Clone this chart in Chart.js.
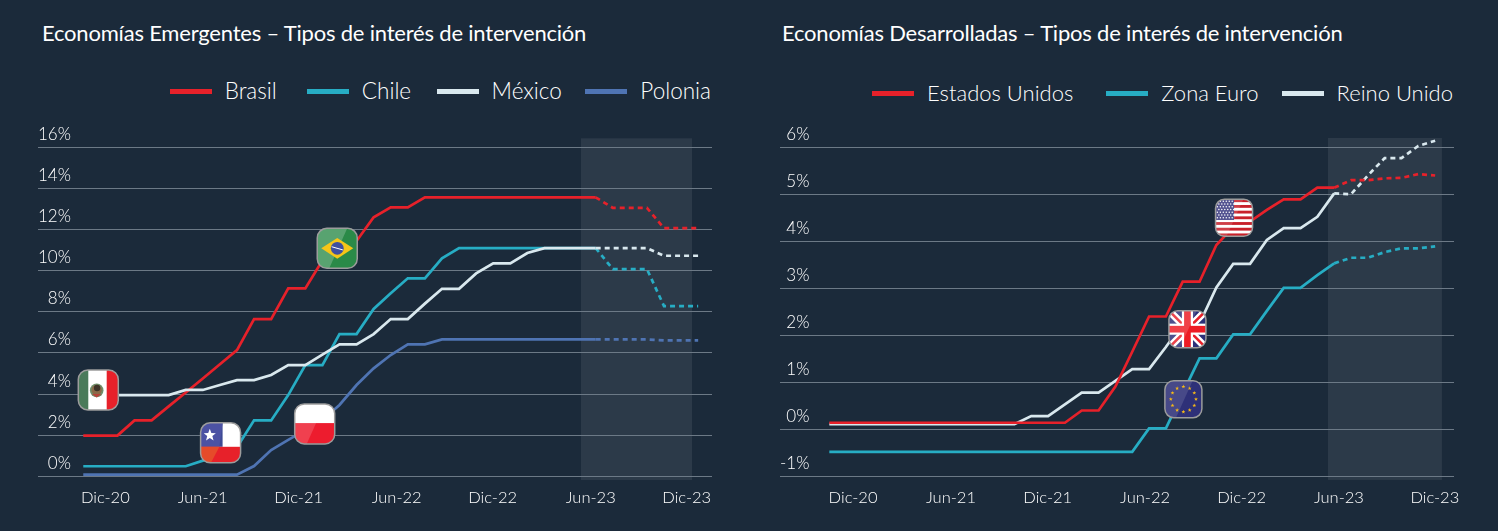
<!DOCTYPE html>
<html lang="es">
<head>
<meta charset="utf-8">
<title>Tipos de interés de intervención</title>
<script src="https://cdn.jsdelivr.net/npm/chart.js@4"></script>
<style>
  html, body { margin: 0; padding: 0; background: #1b2a3a; }
  #page { position: relative; width: 1498px; height: 531px; overflow: hidden; color: #fff; font-family: Lato, sans-serif; }
  canvas { position: absolute; top: 0; }
  #chartEmerging { left: 0; }
  #chartDeveloped { left: 750px; }
  h2 { position: absolute; top: 20px; margin: 0; font-size: 22px; line-height: 26px; font-weight: 400; letter-spacing: -0.2px; white-space: nowrap; }
  #titleEmerging { left: 42px; }
  #titleDeveloped { left: 782px; }
  .legend { position: absolute; display: flex; line-height: 28px; font-weight: 300; }
  #legendEmerging { top: 77px; right: 787px; font-size: 22.5px; }
  #legendDeveloped { top: 79px; right: 45px; font-size: 22px; }
  .legend span { display: flex; align-items: center; white-space: nowrap; }
  .legend i { display: block; width: 42px; height: 5px; margin-right: 13px; }
</style>
</head>
<body>
<div id="page">
  <h2 id="titleEmerging">Economías Emergentes – Tipos de interés de intervención</h2>
  <h2 id="titleDeveloped">Economías Desarrolladas – Tipos de interés de intervención</h2>
  <div class="legend" id="legendEmerging"></div>
  <div class="legend" id="legendDeveloped"></div>
  <canvas id="chartEmerging" width="750" height="531"></canvas>
  <canvas id="chartDeveloped" width="748" height="531"></canvas>
</div>
<script>
// ---- Data (monthly, Dic-20 to Dic-23) ----
const months = [0,1,2,3,4,5,6,7,8,9,10,11,12,13,14,15,16,17,18,19,20,21,22,23,24,25,26,27,28,29,30,31,32,33,34,35,36];
const lastActual = 30; // dashed from here on
const xTickLabels = ["Dic-20", "Jun-21", "Dic-21", "Jun-22", "Dic-22", "Jun-23", "Dic-23"];

const brasil  = [1.98,1.98,1.98,2.72,2.72,3.4,4.08,4.76,5.45,6.14,7.65,7.65,9.14,9.14,10.5,11.0,11.45,12.6,13.08,13.08,13.57,13.57,13.57,13.57,13.57,13.57,13.57,13.57,13.57,13.57,13.57,13.06,13.06,13.06,12.07,12.07,12.07];
const chile   = [0.49,0.49,0.49,0.49,0.49,0.49,0.49,0.76,0.9,1.41,2.72,2.72,3.95,5.41,5.41,6.92,6.92,8.14,8.9,9.63,9.63,10.6,11.1,11.1,11.1,11.1,11.1,11.1,11.1,11.1,11.1,10.08,10.08,10.08,8.28,8.28,8.28];
const mexico  = [3.95,3.95,3.95,3.95,3.95,3.95,4.2,4.2,4.44,4.68,4.68,4.93,5.41,5.41,5.92,6.42,6.42,6.92,7.65,7.65,8.4,9.12,9.12,9.87,10.36,10.36,10.86,11.1,11.1,11.1,11.1,11.1,11.1,11.1,10.73,10.73,10.73];
const polonia = [0.08,0.08,0.08,0.08,0.08,0.08,0.08,0.08,0.08,0.08,0.5,1.28,1.77,2.25,2.74,3.47,4.44,5.25,5.9,6.42,6.42,6.66,6.66,6.66,6.66,6.66,6.66,6.66,6.66,6.66,6.66,6.66,6.66,6.66,6.61,6.61,6.61];

const estadosUnidos = [0.14,0.14,0.14,0.14,0.14,0.14,0.14,0.14,0.14,0.14,0.14,0.14,0.14,0.14,0.14,0.4,0.4,0.91,1.65,2.4,2.4,3.14,3.14,3.92,4.3,4.42,4.67,4.89,4.89,5.14,5.14,5.3,5.3,5.34,5.35,5.43,5.4];
const zonaEuro      = [-0.48,-0.48,-0.48,-0.48,-0.48,-0.48,-0.48,-0.48,-0.48,-0.48,-0.48,-0.48,-0.48,-0.48,-0.48,-0.48,-0.48,-0.48,-0.48,0.02,0.02,0.77,1.51,1.51,2.02,2.02,2.52,3.01,3.01,3.28,3.53,3.65,3.65,3.77,3.85,3.85,3.89];
const reinoUnido    = [0.11,0.11,0.11,0.11,0.11,0.11,0.11,0.11,0.11,0.11,0.11,0.11,0.28,0.28,0.53,0.78,0.78,1.03,1.28,1.28,1.75,2.25,2.25,3.02,3.52,3.52,4.03,4.28,4.28,4.52,5.02,5.0,5.4,5.77,5.77,6.03,6.14];

const emergingTicks  = [0, 2, 4, 6, 8, 10, 12, 14, 16];
const developedTicks = [-1, 0, 1, 2, 3, 4, 5, 6];

// ---- Colours ----
const RED = "#e7212a", TEAL = "#27adc4", WHITE = "#d9e8ee", BLUE = "#4f74b3";
const GRID = "#6c7986", BAND = "rgba(255,255,255,0.08)";
const FONT = "Lato, sans-serif";

// ---- Flag icons ----
function poly(ctx, pts, fill) {
  ctx.fillStyle = fill;
  ctx.beginPath();
  pts.forEach((p, i) => i ? ctx.lineTo(p[0], p[1]) : ctx.moveTo(p[0], p[1]));
  ctx.closePath();
  ctx.fill();
}
function star(ctx, cx, cy, r, fill) {
  const pts = [];
  for (let i = 0; i < 10; i++) {
    const a = -Math.PI / 2 + i * Math.PI / 5, q = i % 2 ? r * 0.42 : r;
    pts.push([cx + q * Math.cos(a), cy + q * Math.sin(a)]);
  }
  poly(ctx, pts, fill);
}
function disc(ctx, cx, cy, r, fill) {
  ctx.fillStyle = fill;
  ctx.beginPath();
  ctx.arc(cx, cy, r, 0, Math.PI * 2);
  ctx.fill();
}
function shine(ctx, s, a) {
  poly(ctx, [[0, 0], [s * 0.75, 0], [s * 0.3, s], [0, s]], `rgba(255,255,255,${a})`);
}

const flagPainters = {
  mexico(ctx, s) {
    ctx.fillStyle = "#fff"; ctx.fillRect(0, 0, s, s);
    ctx.fillStyle = "#4a7a5a"; ctx.fillRect(0, 0, s * 0.25, s);
    ctx.fillStyle = RED; ctx.fillRect(s * 0.71, 0, s * 0.29, s);
    disc(ctx, s * 0.46, s * 0.51, s * 0.17, "#6f8f6a");
    disc(ctx, s * 0.46, s * 0.5, s * 0.13, "#8a6a48");
    disc(ctx, s * 0.47, s * 0.45, s * 0.08, "#3d3327");
    poly(ctx, [[s * 0.34, s * 0.6], [s * 0.58, s * 0.6], [s * 0.46, s * 0.69]], "#b5443a");
  },
  chile(ctx, s) {
    ctx.fillStyle = "#fff"; ctx.fillRect(0, 0, s, s);
    ctx.fillStyle = "#3d4a94"; ctx.fillRect(0, 0, s * 0.55, s * 0.6);
    poly(ctx, [[0, 0], [s * 0.55, 0], [s * 0.47, s * 0.6], [0, s * 0.6]], "#4c52a4");
    star(ctx, s * 0.23, s * 0.31, s * 0.16, "#fff");
    ctx.fillStyle = RED; ctx.fillRect(0, s * 0.6, s, s * 0.4);
    poly(ctx, [[0, s * 0.6], [s * 0.47, s * 0.6], [s * 0.26, s], [0, s]], "#e64b2a");
  },
  brasil(ctx, s) {
    ctx.fillStyle = "#2a8a48"; ctx.fillRect(0, 0, s, s);
    shine(ctx, s, 0.22);
    poly(ctx, [[s * 0.1, s * 0.5], [s * 0.5, s * 0.24], [s * 0.9, s * 0.5], [s * 0.5, s * 0.76]], "#f5c518");
    disc(ctx, s * 0.5, s * 0.5, s * 0.16, "#3f4f9f");
    ctx.strokeStyle = "#fff"; ctx.lineWidth = 1;
    ctx.beginPath(); ctx.moveTo(s * 0.36, s * 0.46); ctx.lineTo(s * 0.64, s * 0.54); ctx.stroke();
  },
  polonia(ctx, s) {
    ctx.fillStyle = "#ed1c2e"; ctx.fillRect(0, 0, s, s);
    shine(ctx, s, 0.16);
    ctx.fillStyle = "#fff"; ctx.fillRect(0, 0, s, s * 0.48);
  },
  usa(ctx, s) {
    ctx.fillStyle = "#fff"; ctx.fillRect(0, 0, s, s);
    ctx.fillStyle = "#c8202a";
    for (let i = 0; i < 7; i++) ctx.fillRect(0, i * s * 2 / 13, s, s / 13);
    ctx.fillStyle = "#3a3a80"; ctx.fillRect(0, 0, s * 0.5, s * 0.56);
    for (let r = 0; r < 7; r++) for (let c = 0; c < 6; c++) {
      disc(ctx, s * (0.05 + c * 0.08 + (r % 2 ? 0.04 : 0)), s * (0.05 + r * 0.075), s * 0.02, "#fff");
    }
    shine(ctx, s, 0.14);
  },
  uk(ctx, s) {
    ctx.fillStyle = "#2b2f78"; ctx.fillRect(0, 0, s, s);
    ctx.strokeStyle = "#fff"; ctx.lineWidth = s * 0.2;
    ctx.beginPath(); ctx.moveTo(0, 0); ctx.lineTo(s, s); ctx.moveTo(s, 0); ctx.lineTo(0, s); ctx.stroke();
    ctx.strokeStyle = RED; ctx.lineWidth = s * 0.07;
    ctx.beginPath(); ctx.moveTo(0, 0); ctx.lineTo(s, s); ctx.moveTo(s, 0); ctx.lineTo(0, s); ctx.stroke();
    ctx.fillStyle = "#fff";
    ctx.fillRect(s * 0.35, 0, s * 0.3, s); ctx.fillRect(0, s * 0.35, s, s * 0.3);
    ctx.fillStyle = "#ed1c24";
    ctx.fillRect(s * 0.41, 0, s * 0.18, s); ctx.fillRect(0, s * 0.41, s, s * 0.18);
    shine(ctx, s, 0.16);
  },
  eu(ctx, s) {
    ctx.fillStyle = "#2e3078"; ctx.fillRect(0, 0, s, s);
    shine(ctx, s, 0.12);
    for (let i = 0; i < 12; i++) {
      const a = i * Math.PI / 6;
      star(ctx, s * 0.5 + s * 0.34 * Math.cos(a), s * 0.5 + s * 0.34 * Math.sin(a), s * 0.055, "#f5b818");
    }
  }
};

// Icons sit on the chart at (month, value)
const emergingFlags = [
  { flag: "mexico",  month: 0.88,  value: 4.2 },
  { flag: "chile",   month: 8.04,  value: 1.63 },
  { flag: "brasil",  month: 14.87, value: 11.09 },
  { flag: "polonia", month: 13.55, value: 2.55 }
];
const developedFlags = [
  { flag: "usa", month: 24.05, value: 4.5 },
  { flag: "uk",  month: 21.28, value: 2.13 },
  { flag: "eu",  month: 21.04, value: 0.64 }
];

// ---- Inline plugins ----
const bandPlugin = {
  id: "forecastBand",
  beforeDraw(chart, args, opts) {
    const { x, y } = chart.scales;
    const { ctx } = chart;
    ctx.save();
    ctx.fillStyle = BAND;
    ctx.fillRect(x.getPixelForValue(opts.from), y.getPixelForValue(opts.top),
      x.getPixelForValue(opts.to) - x.getPixelForValue(opts.from),
      y.getPixelForValue(opts.bottom) - y.getPixelForValue(opts.top));
    ctx.restore();
  }
};

const flagPlugin = {
  id: "flagIcons",
  afterDatasetsDraw(chart, args, opts) {
    const { x, y } = chart.scales;
    const { ctx } = chart;
    const s = opts.size;
    opts.items.forEach(item => {
      const left = x.getPixelForValue(item.month) - s / 2;
      const top = y.getPixelForValue(item.value) - s / 2;
      ctx.save();
      ctx.translate(left, top);
      ctx.save();
      ctx.beginPath();
      ctx.roundRect(0, 0, s, s, s * 0.24);
      ctx.clip();
      flagPainters[item.flag](ctx, s);
      ctx.restore();
      ctx.beginPath();
      ctx.roundRect(0, 0, s, s, s * 0.24);
      ctx.strokeStyle = "#9c9c9c";
      ctx.lineWidth = 1.5;
      ctx.stroke();
      ctx.restore();
    });
  }
};

// ---- Chart builder ----
function line(label, data, color, order) {
  return {
    label, data: months.map((m, i) => ({ x: m, y: data[i] })),
    borderColor: color, backgroundColor: color, borderWidth: 2.7,
    pointRadius: 0, tension: 0, order,
    segment: { borderDash: c => c.p0DataIndex >= lastActual ? [5, 4] : undefined }
  };
}

function buildChart(id, cfg) {
  return new Chart(document.getElementById(id), {
    type: "line",
    data: { datasets: cfg.datasets },
    plugins: [bandPlugin, flagPlugin],
    options: {
      responsive: false,
      animation: false,
      layout: { padding: { top: 133, left: cfg.padLeft, right: cfg.padRight, bottom: 0 } },
      plugins: {
        legend: { display: false },
        tooltip: { enabled: false },
        forecastBand: cfg.band,
        flagIcons: { items: cfg.flags, size: cfg.flagSize }
      },
      scales: {
        x: {
          type: "linear",
          min: cfg.xMin, max: cfg.xMax,
          afterBuildTicks: s => { s.ticks = cfg.xTicks.map(value => ({ value })); },
          afterFit: s => { s.height = 49; },
          grid: { display: false, drawTicks: false },
          border: { display: false },
          ticks: {
            callback: (v, i) => xTickLabels[i],
            autoSkip: false, maxRotation: 0, padding: 6,
            color: "#fff", font: { family: FONT, size: 16.5, weight: 300 }
          }
        },
        y: {
          min: cfg.yMin, max: cfg.yMax,
          afterBuildTicks: s => { s.ticks = cfg.yTicks.map(value => ({ value })); },
          grid: { color: GRID, lineWidth: 1, drawTicks: false },
          border: { display: false },
          ticks: {
            callback: v => v + "%",
            mirror: true, crossAlign: "far", padding: 0, labelOffset: -13,
            color: "#fff", font: { family: FONT, size: 17, weight: 300 }
          }
        }
      }
    }
  });
}

// items: [name, colour, gap before it]
function buildLegend(id, items) {
  document.getElementById(id).innerHTML = items
    .map(it => `<span style="margin-left:${it[2]}px"><i style="background:${it[1]}"></i>${it[0]}</span>`).join("");
}

buildLegend("legendEmerging", [["Brasil", RED, 0], ["Chile", TEAL, 30], ["México", WHITE, 25.5], ["Polonia", BLUE, 23.5]]);
buildLegend("legendDeveloped", [["Estados Unidos", RED, 0], ["Zona Euro", TEAL, 33], ["Reino Unido", WHITE, 23]]);

buildChart("chartEmerging", {
  datasets: [
    line("Brasil", brasil, RED, 1),
    line("Chile", chile, TEAL, 2),
    line("México", mexico, WHITE, 0),
    line("Polonia", polonia, BLUE, 3)
  ],
  padLeft: 38, padRight: 38,
  xMin: -2.65, xMax: 36.81,
  yMin: -0.277, yMax: 16.70,
  xTicks: [1.29, 6.99, 12.61, 18.35, 23.97, 29.71, 35.33],
  yTicks: emergingTicks,
  band: { from: 29.14, to: 35.64, top: 16.44, bottom: -0.18 },
  flags: emergingFlags, flagSize: 40
});

buildChart("chartDeveloped", {
  datasets: [
    line("Estados Unidos", estadosUnidos, RED, 0),
    line("Zona Euro", zonaEuro, TEAL, 2),
    line("Reino Unido", reinoUnido, WHITE, 1)
  ],
  padLeft: 30, padRight: 44,
  xMin: -2.93, xMax: 37.12,
  yMin: -1.121, yMax: 6.304,
  xTicks: [1.41, 7.23, 12.98, 18.76, 24.5, 30.28, 35.98],
  yTicks: developedTicks,
  band: { from: 29.63, to: 36.4, top: 6.198, bottom: -1.077 },
  flags: developedFlags, flagSize: 37
});
</script>
</body>
</html>
